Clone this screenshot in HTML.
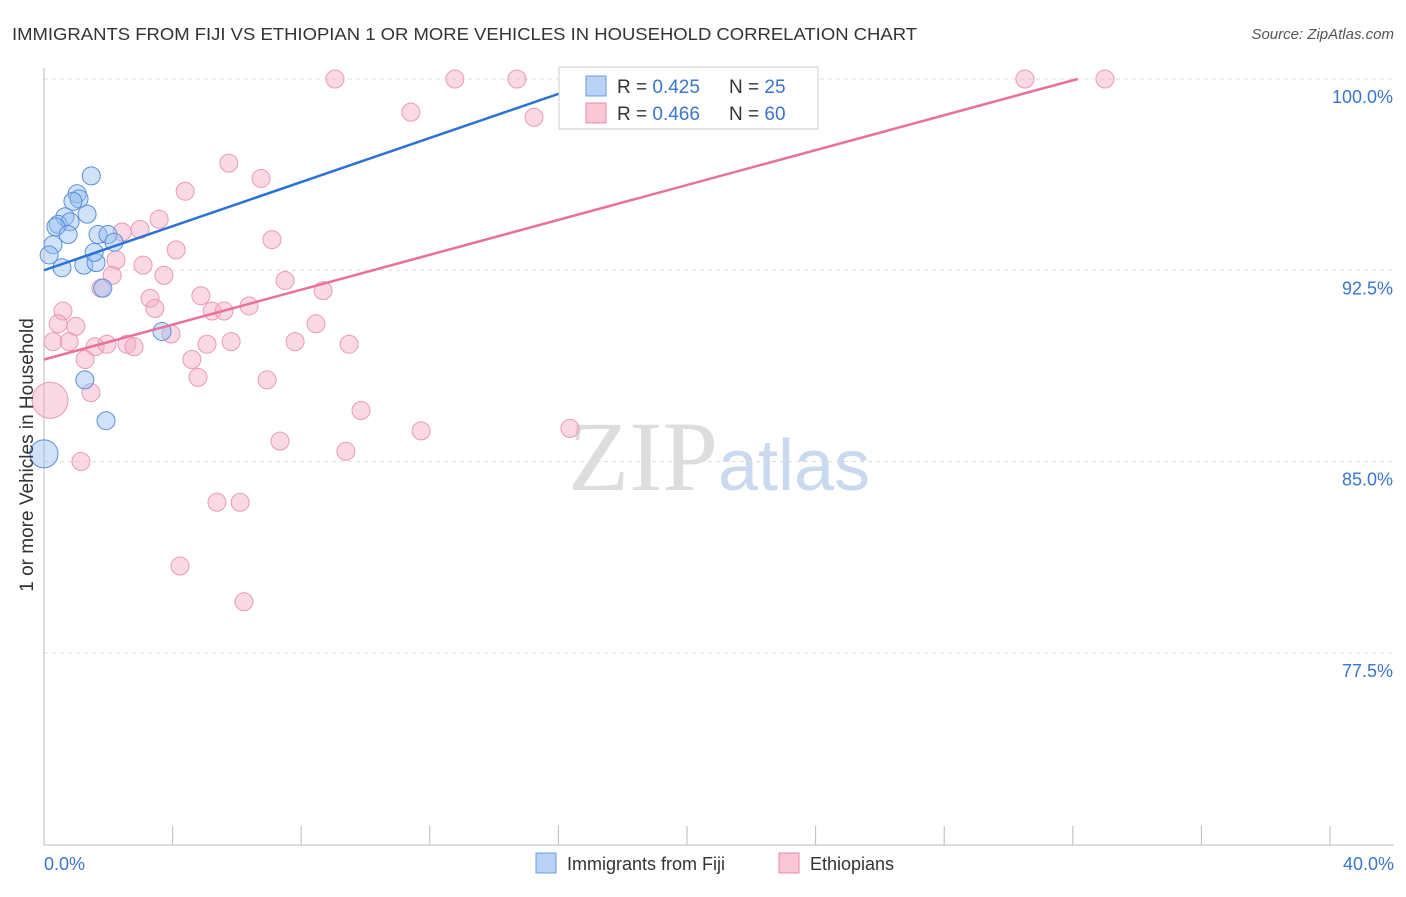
<!DOCTYPE html>
<html><head><meta charset="utf-8"><style>
body{margin:0;background:#fff;font-family:"Liberation Sans",sans-serif}
</style></head><body>
<svg width="1406" height="892" xmlns="http://www.w3.org/2000/svg" font-family="Liberation Sans, sans-serif">
<text x="12" y="40" font-size="17.5" fill="#333" textLength="905" lengthAdjust="spacingAndGlyphs">IMMIGRANTS FROM FIJI VS ETHIOPIAN 1 OR MORE VEHICLES IN HOUSEHOLD CORRELATION CHART</text>
<text x="1394" y="39" font-size="15" fill="#555" font-style="italic" text-anchor="end">Source: ZipAtlas.com</text>
<text x="718" y="490" font-size="100" fill="#ddd" text-anchor="end" font-family="Liberation Serif, serif">ZIP</text>
<text x="718" y="490" font-size="72" fill="#c9d9ef">atlas</text>
<g id="grid"></g>
<line x1="44" y1="68" x2="44" y2="845" stroke="#bbb"/>
<line x1="44" y1="845" x2="1394" y2="845" stroke="#bbb"/>
<g id="ticks"></g>
<g id="pts"></g>
<g id="lines"></g>
<text x="33" y="455" font-size="19" fill="#333" text-anchor="middle" transform="rotate(-90 33 455)">1 or more Vehicles in Household</text>
<text x="44" y="870" font-size="18" fill="#3a75d0">0.0%</text>
<text x="1394" y="870" font-size="18" fill="#3a75d0" text-anchor="end">40.0%</text>
<g>
<rect x="559" y="67" width="259" height="62" fill="#fff" stroke="#ccc"/>
<rect x="586" y="76" width="20" height="20" fill="#b8d3f5" stroke="#6a9be0"/>
<rect x="586" y="103" width="20" height="20" fill="#f9c7d6" stroke="#e58aa8"/>
<text x="617" y="93" font-size="19" fill="#333">R = <tspan fill="#3a75d0">0.425</tspan></text>
<text x="729" y="93" font-size="19" fill="#333">N =  <tspan fill="#3a75d0">25</tspan></text>
<text x="617" y="120" font-size="19" fill="#333">R = <tspan fill="#3a75d0">0.466</tspan></text>
<text x="729" y="120" font-size="19" fill="#333">N =  <tspan fill="#3a75d0">60</tspan></text>
</g>
<g><rect x="536" y="853" width="20" height="20" fill="#b8d3f5" stroke="#6a9be0"/><text x="567" y="870" font-size="18" fill="#333">Immigrants from Fiji</text></g>
<g><rect x="779" y="853" width="20" height="20" fill="#f9c7d6" stroke="#e58aa8"/><text x="810" y="870" font-size="18" fill="#333">Ethiopians</text></g>
</svg>
<script>
const yTicks=[100,92.5,85,77.5];
const yTickLabels=["100.0%","92.5%","85.0%","77.5%"];
const xTicks=[0,4,8,12,16,20,24,28,32,36,40];
const fijiX=[1.47,1.03,1.09,0.9,0.65,0.44,0.81,0.37,0.75,1.34,0.28,0.16,0.56,1.24,1.62,1.56,1.68,1.99,2.18,1.83,3.67,1.27,1.93,0.0,18.13];
const fijiY=[96.2,95.5,95.3,95.2,94.6,94.3,94.4,94.2,93.9,94.7,93.5,93.1,92.6,92.7,92.8,93.2,93.9,93.9,93.6,91.8,90.1,88.2,86.6,85.3,100];
const fijiR=[9,9,9,9,9,9,9,9,9,9,9,9,9,9,9,9,9,9,9,9,9,9,9,14,9];
const ethX=[9.05,12.78,14.71,30.51,33.0,20.75,11.41,15.24,5.75,6.75,4.39,3.58,2.43,2.99,4.11,7.09,2.24,3.08,3.73,2.12,7.5,1.77,8.68,4.88,3.3,3.45,5.23,5.6,6.38,0.59,0.44,0.99,8.46,0.28,0.78,1.59,1.96,2.58,2.8,3.95,5.82,5.07,7.81,9.49,4.6,1.28,4.79,6.94,1.46,9.86,11.73,16.36,7.34,9.39,1.15,5.38,6.1,4.23,6.22,0.19];
const ethY=[100,100,100,100,100,100,98.7,98.5,96.7,96.1,95.6,94.5,94.0,94.1,93.3,93.7,92.9,92.7,92.3,92.3,92.1,91.8,91.7,91.5,91.4,91.0,90.9,90.9,91.1,90.9,90.4,90.3,90.4,89.7,89.7,89.5,89.6,89.6,89.5,90.0,89.7,89.6,89.7,89.6,89.0,89.0,88.3,88.2,87.7,87.0,86.2,86.3,85.8,85.4,85.0,83.4,83.4,80.9,79.5,87.4];
const fijiLine=[0,92.5,17.35,100];
const ethLine=[0,89.0,32.15,100];
const X=v=>44+v*32.15, Y=v=>79+(100-v)*25.5;
const NS="http://www.w3.org/2000/svg";
function mk(t,a,p){const e=document.createElementNS(NS,t);for(const k in a)e.setAttribute(k,a[k]);document.getElementById(p).appendChild(e);return e;}
yTicks.forEach((v,i)=>{
 const l=mk('line',{x1:44,x2:1394,y1:Y(v),y2:Y(v),stroke:'#ddd','stroke-dasharray':'4,4'},'grid');
 
 
 const t=mk('text',{x:1393,y:Y(v)+24,'font-size':18,fill:'#3a75d0','text-anchor':'end'},'grid');
 t.textContent=yTickLabels[i];
 
 
});
xTicks.forEach(v=>{
 const l=mk('line',{x1:X(v),x2:X(v),y1:826,y2:845,stroke:'#bbb'},'ticks');
 
 
});
ethX.forEach((v,i)=>{
 const c=mk('circle',{cx:X(v),cy:Y(ethY[i]),r:i==59?18:9,fill:'rgba(245,170,195,0.45)',stroke:'#eb9ab4','stroke-width':1},'pts');
 
 
});
fijiX.forEach((v,i)=>{
 const c=mk('circle',{cx:X(v),cy:Y(fijiY[i]),r:fijiR[i],fill:'rgba(150,190,240,0.45)',stroke:'#5b8fdc','stroke-width':1},'pts');
 
 
});
let a=mk('line',{x1:X(fijiLine[0]),y1:Y(fijiLine[1]),x2:X(fijiLine[2]),y2:Y(fijiLine[3]),stroke:'#2a72d8','stroke-width':2.5},'lines');


let b=mk('line',{x1:X(ethLine[0]),y1:Y(ethLine[1]),x2:X(ethLine[2]),y2:Y(ethLine[3]),stroke:'#e8709a','stroke-width':2.5},'lines');


</script>
</body></html>
